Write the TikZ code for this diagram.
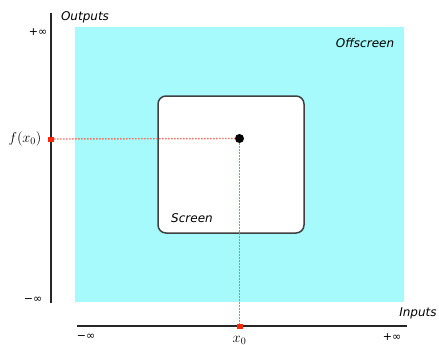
\documentclass[tikz,border=0pt]{standalone}
\usepackage{fontspec}
\setsansfont{DejaVu Sans}
\definecolor{offscreen}{RGB}{166,250,252}
\definecolor{guidered}{RGB}{240,112,98}
\definecolor{tickred}{RGB}{250,40,10}
\begin{document}
\begin{tikzpicture}[x=1pt,y=-1pt,
  lbl/.style={font=\sffamily\itshape\fontsize{12}{14}\selectfont, inner sep=0pt},
  inf/.style={font=\sffamily\fontsize{11}{13}\selectfont, inner sep=0pt},
  mth/.style={font=\fontsize{14}{16}\selectfont, inner sep=0pt},
  axis/.style={line width=1.4pt, black!85},
  guide/.style={draw=guidered, line width=1.4pt, dash pattern=on 1.4pt off 1.6pt},
  tick/.style={fill=tickred, draw=none, minimum width=6pt, minimum height=5pt, inner sep=0pt}]
\useasboundingbox (0,0) rectangle (439,345);
% offscreen area
\fill[offscreen] (75,27) rectangle (404,302);
\node[lbl] (off) at (365,43) {Offscreen};
% screen
\draw[line width=1.5pt, black!75, fill=white, rounded corners=8pt] (158,96) rectangle (304,233);
\node[lbl] (scr) at (192,218) {Screen};
% axes
\coordinate (vtop) at (51,13);
\coordinate (vbot) at (51,303);
\draw[axis] (vtop) -- (vbot);
\coordinate (hleft) at (77,326);
\coordinate (hright) at (407,326);
\draw[axis] (hleft) -- (hright);
\node[lbl] (outs) at (85,17) {Outputs};
\node[lbl] (ins) at (418,313) {Inputs};
\node[inf] (ptop) at (38,32) {+∞};
\node[inf] (mtop) at (33,300) {−∞};
\node[inf] (mbot) at (86,337) {−∞};
\node[inf] (pbot) at (392,337) {+∞};
% sample point and its projections
\node[circle, fill=black, minimum size=9pt, inner sep=0pt] (pt) at (239.5,138.5) {};
\node[tick] (fy) at (51,139) {};
\node[tick] (fx) at (239.5,326) {};
\draw[guide] (fy.east) -- (pt.west);
\draw[guide] (pt.south) -- (fx.north);
\node[mth] (fxl) at (25,139) {$f(x_0)$};
\node[mth] (xl) at (239.5,340) {$x_0$};
\end{tikzpicture}
\end{document}
